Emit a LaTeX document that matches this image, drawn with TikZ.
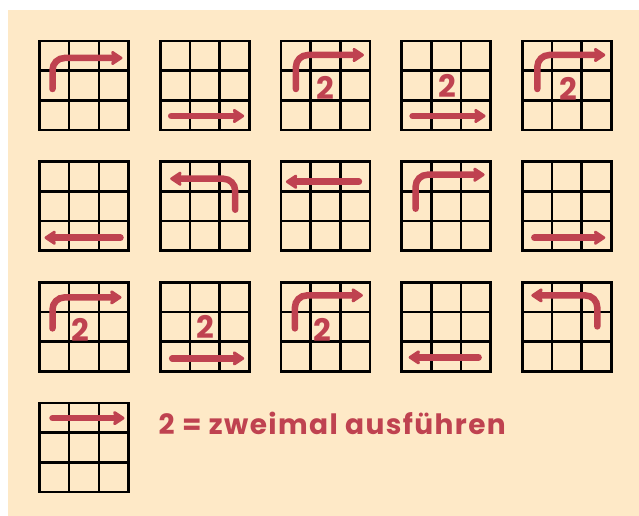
\documentclass[tikz,border=0pt]{standalone}
\usepackage{fontspec}
\newfontfamily\handfont{Poppins}
\newfontfamily\handwidefont{Poppins}[LetterSpace=5]
\usetikzlibrary{arrows.meta,positioning,calc}
\definecolor{paper}{HTML}{FEE9C7}
\definecolor{marker}{HTML}{BF4250}
\tikzset{
  grid style/.style={rectangle, draw, line width=2.6pt, minimum size=89pt,
    inner sep=0pt, outer sep=0pt,
    path picture={
      \foreach \f in {1,2} {
        \draw[line width=2.6pt]
          ($(path picture bounding box.north west)!\f/3!(path picture bounding box.north east)$) --
          ($(path picture bounding box.south west)!\f/3!(path picture bounding box.south east)$);
        \draw[line width=2.6pt]
          ($(path picture bounding box.north west)!\f/3!(path picture bounding box.south west)$) --
          ($(path picture bounding box.north east)!\f/3!(path picture bounding box.south east)$);
      }}},
  arr style/.style={-{Stealth[length=13pt, width=17pt, inset=2pt, round]}, line width=6.5pt,
    line cap=round, rounded corners=12pt, draw=marker, color=marker},
  num style/.style={font=\handfont\bfseries\fontsize{31}{31}\selectfont, text=marker, inner sep=0pt},
  note style/.style={font=\handwidefont\bfseries\fontsize{28}{28}\selectfont, text=marker, inner sep=0pt}
}
\begin{document}
\begin{tikzpicture}[x=1pt, y=-1pt, node distance=31.7pt]
\useasboundingbox (0,0) rectangle (639,516);
\fill[paper] (8,10) rectangle (639,516);
% grids
\node[grid style] (g1) at (84,85.5) {};
\node[grid style, right=of g1] (g2) {};
\node[grid style, right=of g2] (g3) {};
\node[grid style, right=of g3] (g4) {};
\node[grid style, right=of g4] (g5) {};
\node[grid style, below=of g1] (g6) {};
\node[grid style, right=of g6] (g7) {};
\node[grid style, right=of g7] (g8) {};
\node[grid style, right=of g8] (g9) {};
\node[grid style, right=of g9] (g10) {};
\node[grid style, below=of g6] (g11) {};
\node[grid style, right=of g11] (g12) {};
\node[grid style, right=of g12] (g13) {};
\node[grid style, right=of g13] (g14) {};
\node[grid style, right=of g14] (g15) {};
\node[grid style, below=of g11] (g16) {};
% arrows
\draw[arr style] ($(g1.north west)+(13,48)$) |- ($(g1.north west)+(83,17)$);
\draw[arr style] ($(g2.north west)+(11,75)$) -- ($(g2.north west)+(84,75)$);
\draw[arr style] ($(g3.north west)+(15,48)$) |- ($(g3.north west)+(83,14)$);
\draw[arr style] ($(g4.north west)+(11,75)$) -- ($(g4.north west)+(84,75)$);
\draw[arr style] ($(g5.north west)+(15,48)$) |- ($(g5.north west)+(83,14)$);
\draw[arr style] ($(g6.north west)+(81,76)$) -- ($(g6.north west)+(5,76)$);
\draw[arr style] ($(g7.north west)+(75,48)$) |- ($(g7.north west)+(10,17)$);
\draw[arr style] ($(g8.north west)+(78,20)$) -- ($(g8.north west)+(5,20)$);
\draw[arr style] ($(g9.north west)+(14,47)$) |- ($(g9.north west)+(83,13)$);
\draw[arr style] ($(g10.north west)+(12,76)$) -- ($(g10.north west)+(83,76)$);
\draw[arr style] ($(g11.north west)+(13,46)$) |- ($(g11.north west)+(82,15)$);
\draw[arr style] ($(g12.north west)+(12,76)$) -- ($(g12.north west)+(84,76)$);
\draw[arr style] ($(g13.north west)+(14,46)$) |- ($(g13.north west)+(82,13)$);
\draw[arr style] ($(g14.north west)+(77,75)$) -- ($(g14.north west)+(7,75)$);
\draw[arr style] ($(g15.north west)+(75,44)$) |- ($(g15.north west)+(9,13)$);
\draw[arr style] ($(g16.north west)+(13,15)$) -- ($(g16.north west)+(85,15)$);
% repeat marks
\node[num style] (n3) at ($(g3.north west)+(44,47)$) {2};
\node[num style] (n4) at ($(g4.north west)+(46,45)$) {2};
\node[num style] (n5) at ($(g5.north west)+(46,48)$) {2};
\node[num style] (n11) at ($(g11.north west)+(41,48)$) {2};
\node[num style] (n12) at ($(g12.north west)+(45,45)$) {2};
\node[num style] (n13) at ($(g13.north west)+(41,48)$) {2};
\node[note style, anchor=base west] (note) at ($(g16.north east)+(30,31)$) {2 = zweimal ausführen};
\end{tikzpicture}
\end{document}
